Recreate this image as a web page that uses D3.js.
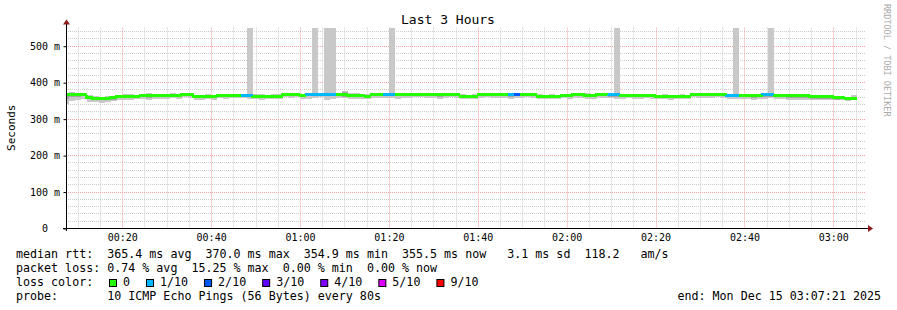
<!DOCTYPE html>
<html>
<head>
<meta charset="utf-8">
<script src="https://cdn.jsdelivr.net/npm/d3@7"></script>
<style>
  body { margin: 0; background: #fff; }
  svg { display: block; }
  text { font-family: "DejaVu Sans Mono", monospace; white-space: pre; }
</style>
</head>
<body>
<svg id="main" width="897" height="310"></svg>
<script>
// время графика
const START = new Date(2025, 11, 15, 0, 7, 21);
const END = new Date(2025, 11, 15, 3, 7, 21);
const FIRST_END = new Date(2025, 11, 15, 0, 8, 4);
const STEP_SEC = 80;

// медиана rtt (ms), по шагам 80s
const median = [
  366,366,365,366,359,355,356,356,357,362,
  362,362,362,363,363,363,363,363,364,363,
  366,366,361,361,361,361,363,363,363,363,
  363,363,362,362,362,362,362,367,367,367,
  364,366,366,366,366,366,366,366,364,364,
  364,362,366,366,366,366,366,366,366,366,
  366,366,366,366,366,366,366,362,362,362,
  366,366,366,366,366,366,366,366,366,366,
  362,362,362,362,364,364,366,366,364,364,
  366,366,365,365,364,364,364,364,364,364,
  362,362,362,362,362,362,366,366,366,366,
  366,366,364,364,364,364,364,364,365,365,
  364,364,364,363,363,363,360,360,360,360,
  357,357,356,356
];

// потерянные пинги из 10
const loss = [
  0,0,0,0,0,0,0,0,0,0,
  0,0,0,0,0,0,0,0,0,0,
  0,0,0,0,0,0,0,0,0,0,
  1,1,0,0,0,0,0,0,0,0,
  0,1,1,1,1,1,0,0,0,0,
  0,0,0,0,1,1,0,0,0,0,
  0,0,0,0,0,0,0,0,0,0,
  0,0,0,0,0,1,2,0,0,0,
  0,0,0,0,0,0,0,0,0,0,
  0,0,1,1,0,0,0,0,0,0,
  0,0,0,0,0,0,0,0,0,0,
  0,0,1,1,0,0,0,0,1,1,
  0,0,0,0,0,0,0,0,0,0,
  0,0,0,0
];

// дым: внешняя полоса
const smokeHi = [
  370,372,371,370,366,362,360,361,362,366,
  368,367,366,368,369,368,367,367,369,368,
  370,369,366,366,367,366,368,367,368,368,
  368,600,368,367,366,368,367,371,370,371,
  368,370,600,370,600,600,370,377,370,369,
  368,367,370,370,370,600,370,369,370,371,
  369,370,369,370,370,369,370,367,366,368,
  369,370,369,370,369,370,371,370,370,369,
  368,366,367,366,368,368,370,370,369,368,
  370,369,368,600,368,368,367,368,368,368,
  366,367,366,366,367,366,370,370,370,369,
  370,370,368,600,368,368,367,368,370,600,
  368,367,368,367,368,367,364,365,364,364,
  362,362,360,364
];
const smokeLo = [
  340,348,350,353,346,345,344,346,349,352,
  350,352,354,355,352,354,355,353,356,355,
  358,357,350,352,353,350,356,355,357,356,
  356,355,354,351,353,355,354,358,357,358,
  355,355,356,358,352,354,357,356,355,354,
  355,353,357,356,356,357,355,356,357,358,
  358,357,356,355,357,358,357,353,354,353,
  357,358,356,357,356,355,356,357,358,356,
  354,353,354,355,356,355,357,356,355,354,
  357,356,356,355,355,356,354,355,356,355,
  353,354,352,353,354,354,358,357,356,357,
  358,356,355,354,355,353,352,354,355,356,
  354,353,352,351,351,350,351,352,350,351,
  350,351,349,350
];

// дым: внутренняя полоса
const midHi = [
  368,368,367,368,362,358,358,358,359,364,
  364,364,364,365,365,365,365,365,366,365,
  368,368,363,363,363,363,365,365,365,365,
  365,365,364,364,364,364,364,369,369,369,
  366,368,368,368,368,368,368,372,366,366,
  366,364,368,368,368,368,368,368,368,368,
  368,368,368,368,368,368,368,364,364,364,
  368,368,368,368,368,368,368,368,368,368,
  364,364,364,364,366,366,368,368,366,366,
  368,368,367,367,366,366,366,366,366,366,
  364,364,364,364,364,364,368,368,368,368,
  368,368,366,366,366,366,366,366,367,367,
  366,366,366,365,365,365,362,362,362,362,
  359,359,358,360
];
const midLo = [
  355,358,360,361,354,350,351,350,352,357,
  356,358,359,359,357,358,358,358,360,358,
  362,361,356,357,357,356,359,358,359,359,
  359,359,358,357,357,358,358,363,362,362,
  359,361,362,362,361,361,362,360,359,359,
  359,357,362,361,361,361,361,361,362,362,
  362,361,361,360,361,362,361,357,358,357,
  361,362,361,361,361,360,361,361,362,361,
  358,357,358,358,359,359,361,361,359,359,
  361,361,360,360,359,359,358,359,360,359,
  357,357,356,357,357,357,361,361,361,361,
  362,361,359,359,359,358,357,358,360,360,
  358,358,357,356,356,356,354,355,353,354,
  352,353,351,350
];

// цвета потерь
const lossLevels = [0, 1, 2, 3, 4, 5, 9];
const lossLabels = ['0', '1/10', '2/10', '3/10', '4/10', '5/10', '9/10'];
const lossColors = ['#26ff00', '#00b8ff', '#0059ff', '#5e00ff', '#7e00ff', '#dd00ff', '#ff0000'];

const yTicks = [0, 100, 200, 300, 400, 500];

const legendLines = [
  'median rtt:  365.4 ms avg  370.0 ms max  354.9 ms min  355.5 ms now   3.1 ms sd  118.2   am/s',
  'packet loss: 0.74 % avg  15.25 % max  0.00 % min  0.00 % now',
  'loss color:',
  'probe:       10 ICMP Echo Pings (56 Bytes) every 80s'
];
const endLabel = 'end: Mon Dec 15 03:07:21 2025';

const svg = d3.select('svg#main');

const plotLeft = 66, plotRight = 866, plotTop = 27.5, plotBottom = 228;
const x = d3.scaleTime().domain([START, END]).range([plotLeft, plotRight]);
const y = d3.scaleLinear().domain([0, 550]).range([plotBottom, plotTop]);
const colorOf = d3.scaleOrdinal().domain(lossLevels).range(lossColors);

// сетка
const grid = svg.append('g').attr('class', 'grid');
const minutes = d3.timeMinute.every(5).range(START, END);
const yMinor = d3.range(20, 551, 20).filter(v => v % 100 !== 0);

function vLines(sel, list, color) {
  sel.selectAll(null)
    .data(list)
    .join('line')
    .attr('x1', d => Math.round(x(d)) + 0.5)
    .attr('x2', d => Math.round(x(d)) + 0.5)
    .attr('y1', plotTop)
    .attr('y2', plotBottom)
    .attr('stroke', color)
    .attr('stroke-dasharray', '1,1');
}

function hLines(sel, list, color) {
  sel.selectAll(null)
    .data(list)
    .join('line')
    .attr('x1', plotLeft)
    .attr('x2', plotRight)
    .attr('y1', d => Math.round(y(d)) + 0.5)
    .attr('y2', d => Math.round(y(d)) + 0.5)
    .attr('stroke', color)
    .attr('stroke-dasharray', '1,1');
}

vLines(grid, minutes.filter(d => d.getMinutes() % 20 !== 0), '#cccccc');
hLines(grid, yMinor, '#cccccc');
vLines(grid, minutes.filter(d => d.getMinutes() % 20 === 0), '#f4a0a0');
hLines(grid, yTicks.filter(v => v > 0), '#f4a0a0');

// шаги данных
const steps = median.map((m, i) => {
  const t1 = new Date(FIRST_END.getTime() + i * STEP_SEC * 1000);
  const t0 = new Date(t1.getTime() - STEP_SEC * 1000);
  return {
    x0: Math.max(plotLeft, x(t0)),
    x1: x(t1),
    median: m,
    loss: loss[i],
    hi: Math.min(550, smokeHi[i]),
    lo: smokeLo[i],
    mHi: midHi[i],
    mLo: midLo[i]
  };
});

const data = svg.append('g').attr('class', 'data').attr('shape-rendering', 'crispEdges');

data.selectAll('.smoke')
  .data(steps)
  .join('rect')
  .attr('class', 'smoke')
  .attr('x', d => d.x0)
  .attr('width', d => d.x1 - d.x0)
  .attr('y', d => y(d.hi))
  .attr('height', d => y(d.lo) - y(d.hi))
  .attr('fill', '#c8c8c8');

data.selectAll('.smoke-mid')
  .data(steps)
  .join('rect')
  .attr('class', 'smoke-mid')
  .attr('x', d => d.x0)
  .attr('width', d => d.x1 - d.x0)
  .attr('y', d => y(d.mHi))
  .attr('height', d => y(d.mLo) - y(d.mHi))
  .attr('fill', '#a4a4a4');

// медиана со ступеньками
data.selectAll('.median')
  .data(steps)
  .join('path')
  .attr('class', 'median')
  .attr('d', (d, i) => {
    const prev = i > 0 ? steps[i - 1].median : d.median;
    return `M${d.x0},${y(prev)}V${y(d.median)}H${d.x1}`;
  })
  .attr('fill', 'none')
  .attr('stroke', d => colorOf(d.loss))
  .attr('stroke-width', 3);

// оси
const axisColor = '#000';
const arrowColor = '#8b1a1a';

const yAxis = d3.axisLeft(y)
  .tickValues(yTicks)
  .tickSize(3)
  .tickFormat(v => v === 0 ? '0' : `${v} m`);

svg.append('g')
  .attr('transform', `translate(${plotLeft + 0.5},0.5)`)
  .call(yAxis)
  .call(g => g.select('.domain').remove())
  .call(g => g.selectAll('.tick line').attr('stroke', axisColor))
  .call(g => g.selectAll('.tick text')
    .attr('font-family', '"DejaVu Sans Mono", monospace')
    .attr('font-size', 10)
    .attr('fill', '#000')
    .attr('x', v => v === 0 ? -18.5 : -6.5)
    .attr('dy', '0.32em'));

const xAxis = d3.axisBottom(x)
  .ticks(d3.timeMinute.every(20))
  .tickSize(0)
  .tickFormat(d3.timeFormat('%H:%M'));

svg.append('g')
  .attr('transform', `translate(0,${plotBottom})`)
  .call(xAxis)
  .call(g => g.select('.domain').remove())
  .call(g => g.selectAll('.tick text')
    .attr('font-family', '"DejaVu Sans Mono", monospace')
    .attr('font-size', 10)
    .attr('fill', '#000')
    .attr('y', 13)
    .attr('dy', 0));

// линии осей и стрелки
svg.append('line')
  .attr('x1', 63).attr('x2', plotRight + 3)
  .attr('y1', plotBottom + 0.5).attr('y2', plotBottom + 0.5)
  .attr('stroke', axisColor);
svg.append('line')
  .attr('x1', plotLeft + 0.5).attr('x2', plotLeft + 0.5)
  .attr('y1', plotBottom + 3).attr('y2', plotTop - 4)
  .attr('stroke', axisColor);
svg.append('path')
  .attr('d', `M${plotRight + 2},${plotBottom - 3}L${plotRight + 7},${plotBottom + 0.5}L${plotRight + 2},${plotBottom + 4}Z`)
  .attr('fill', arrowColor);
svg.append('path')
  .attr('d', `M${plotLeft - 3},${plotTop - 3}L${plotLeft + 0.5},${plotTop - 8}L${plotLeft + 4},${plotTop - 3}Z`)
  .attr('fill', arrowColor);

// заголовки
svg.append('text')
  .attr('x', 448).attr('y', 24)
  .attr('text-anchor', 'middle')
  .attr('font-size', 13)
  .text('Last 3 Hours');

svg.append('text')
  .attr('transform', `translate(15,${(plotTop + plotBottom) / 2}) rotate(-90)`)
  .attr('text-anchor', 'middle')
  .attr('font-size', 11)
  .text('Seconds');

svg.append('text')
  .attr('transform', 'translate(884,4) rotate(90)')
  .attr('font-size', 8.5)
  .attr('fill', '#aaaaaa')
  .text('RRDTOOL / TOBI OETIKER');

// легенда
const charW = 7.02;
const legendFont = 11.66;
const legend = svg.append('g').attr('font-size', legendFont).attr('fill', '#000');

legend.selectAll('.line')
  .data(legendLines)
  .join('text')
  .attr('class', 'line')
  .attr('x', 16)
  .attr('y', (d, i) => 258 + i * 14)
  .text(d => d);

legend.append('text')
  .attr('x', 881)
  .attr('y', 300)
  .attr('text-anchor', 'end')
  .text(endLabel);

let lx = 109;
lossLabels.forEach((label, i) => {
  legend.append('rect')
    .attr('x', lx + 0.5).attr('y', 279.5)
    .attr('width', 7).attr('height', 7)
    .attr('fill', lossColors[i])
    .attr('stroke', '#000');
  legend.append('text')
    .attr('x', lx + 14)
    .attr('y', 286)
    .text(label);
  lx += 14 + label.length * charW + 16;
});
</script>
</body>
</html>
